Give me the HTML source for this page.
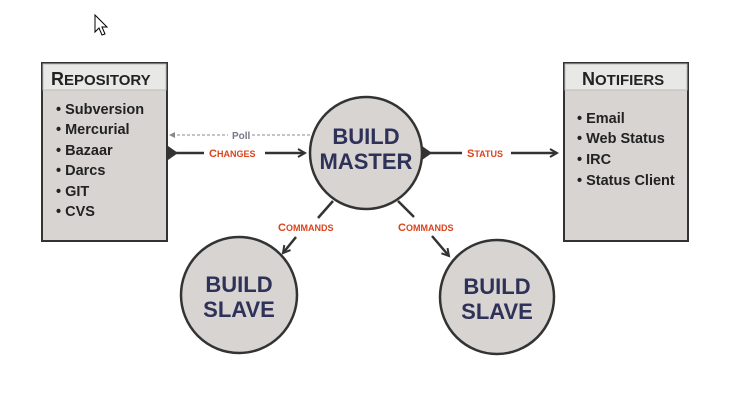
<!DOCTYPE html>
<html><head><style>
body{margin:0;background:#fff;width:749px;height:405px;overflow:hidden}
svg text{font-family:"Liberation Sans",sans-serif;font-weight:bold}
</style></head><body>
<svg width="749" height="405" viewBox="0 0 749 405">
<defs>
<marker id="a" markerWidth="10" markerHeight="10" refX="8" refY="5" orient="auto" markerUnits="userSpaceOnUse"><path d="M1,1 L8,5 L1,9" fill="none" stroke="#333" stroke-width="2"/></marker>
<marker id="s" markerWidth="8" markerHeight="8" refX="4" refY="4" orient="auto" markerUnits="userSpaceOnUse"><path d="M7,1 L1,4 L7,7Z" fill="#888"/></marker>
</defs>
<path d="M95,15 L95,32 L99,28 L102,35 L105,34 L102,27 L107,27Z" fill="#fff" stroke="#000" stroke-width="1"/>
<rect x="42" y="63" width="125" height="178" fill="#d8d4d1" stroke="#333" stroke-width="2"/>
<rect x="43" y="64" width="123" height="26" fill="#e8e9e7" stroke="#bbb"/>
<text x="51" y="85" font-size="18" fill="#222">R<tspan font-size="15">EPOSITORY</tspan></text>
<g font-size="14.5" fill="#222">
<text x="56" y="114">• Subversion</text><text x="56" y="134">• Mercurial</text><text x="56" y="155">• Bazaar</text>
<text x="56" y="175">• Darcs</text><text x="56" y="196">• GIT</text><text x="56" y="216">• CVS</text></g>
<rect x="564" y="63" width="124" height="178" fill="#d8d4d1" stroke="#333" stroke-width="2"/>
<rect x="565" y="64" width="122" height="26" fill="#e8e9e7" stroke="#bbb"/>
<text x="582" y="85" font-size="18" fill="#222">N<tspan font-size="15">OTIFIERS</tspan></text>
<g font-size="14.5" fill="#222">
<text x="577" y="123">• Email</text><text x="577" y="143">• Web Status</text><text x="577" y="164">• IRC</text><text x="577" y="185">• Status Client</text></g>
<line x1="172" y1="135" x2="228" y2="135" stroke="#889" stroke-dasharray="3,2" marker-start="url(#s)"/>
<line x1="252" y1="135" x2="312" y2="135" stroke="#889" stroke-dasharray="3,2"/>
<text x="232" y="139" font-size="10" fill="#778">Poll</text>
<path d="M168,146 L178,153 L168,160Z" fill="#333"/>
<line x1="172" y1="153" x2="204" y2="153" stroke="#333" stroke-width="2.5"/>
<line x1="265" y1="153" x2="305" y2="153" stroke="#333" stroke-width="2.5" marker-end="url(#a)"/>
<text x="209" y="157" font-size="11" fill="#d9441c">C<tspan font-size="9">HANGES</tspan></text>
<path d="M422,146 L432,153 L422,160Z" fill="#333"/>
<line x1="426" y1="153" x2="462" y2="153" stroke="#333" stroke-width="2.5"/>
<line x1="511" y1="153" x2="557" y2="153" stroke="#333" stroke-width="2.5" marker-end="url(#a)"/>
<text x="467" y="157" font-size="11" fill="#d9441c">S<tspan font-size="9">TATUS</tspan></text>
<line x1="333" y1="201" x2="318" y2="218" stroke="#333" stroke-width="2.5"/>
<line x1="296" y1="237" x2="283" y2="253" stroke="#333" stroke-width="2.5" marker-end="url(#a)"/>
<text x="278" y="231" font-size="11" fill="#d9441c">C<tspan font-size="9">OMMANDS</tspan></text>
<line x1="398" y1="201" x2="414" y2="217" stroke="#333" stroke-width="2.5"/>
<line x1="432" y1="236" x2="449" y2="256" stroke="#333" stroke-width="2.5" marker-end="url(#a)"/>
<text x="398" y="231" font-size="11" fill="#d9441c">C<tspan font-size="9">OMMANDS</tspan></text>
<g fill="#d8d4d1" stroke="#333" stroke-width="2.5">
<circle cx="366" cy="153" r="56"/><circle cx="239" cy="295" r="58"/><circle cx="497" cy="297" r="57"/></g>
<g font-size="22" fill="#2e3158" text-anchor="middle">
<text x="366" y="144">BUILD</text><text x="366" y="169">MASTER</text>
<text x="239" y="292">BUILD</text><text x="239" y="317">SLAVE</text>
<text x="497" y="294">BUILD</text><text x="497" y="319">SLAVE</text></g>
</svg>
</body></html>
